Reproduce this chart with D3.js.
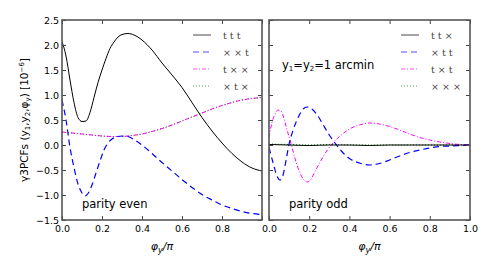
<!DOCTYPE html>
<html>
<head>
<meta charset="utf-8">
<script src="https://d3js.org/d3.v7.min.js"></script>
<style>
  body { margin: 0; background: #fff; }
  text { font-family: "DejaVu Sans", sans-serif; }
</style>
</head>
<body>
<svg width="491" height="260"></svg>
<script>

// parity even panel (left)
const ttt_x = [0, 0.02, 0.04, 0.06, 0.08, 0.1, 0.12, 0.14, 0.16, 0.18, 0.2, 0.22, 0.24, 0.26, 0.28, 0.3, 0.33, 0.36, 0.4, 0.45, 0.5, 0.55, 0.6, 0.65, 0.7, 0.75, 0.8, 0.85, 0.9, 0.95, 1.0];
const ttt_y = [2.07, 1.78, 1.3, 0.85, 0.55, 0.47, 0.48, 0.65, 0.95, 1.25, 1.5, 1.73, 1.93, 2.06, 2.16, 2.21, 2.23, 2.2, 2.1, 1.9, 1.64, 1.4, 1.15, 0.85, 0.55, 0.28, 0.04, -0.17, -0.34, -0.46, -0.52];

const xxt_x = [0, 0.02, 0.04, 0.06, 0.08, 0.1, 0.115, 0.13, 0.15, 0.17, 0.19, 0.21, 0.23, 0.25, 0.27, 0.3, 0.33, 0.36, 0.4, 0.45, 0.5, 0.55, 0.6, 0.65, 0.7, 0.75, 0.8, 0.85, 0.9, 0.95, 1.0];
const xxt_y = [0.9, 0.5, -0.05, -0.45, -0.78, -0.96, -1.02, -0.97, -0.8, -0.56, -0.32, -0.1, 0.04, 0.12, 0.16, 0.18, 0.17, 0.11, 0.0, -0.17, -0.35, -0.52, -0.69, -0.85, -0.99, -1.1, -1.2, -1.27, -1.33, -1.37, -1.39];

const txx_x = [0, 0.05, 0.1, 0.15, 0.2, 0.25, 0.3, 0.35, 0.4, 0.45, 0.5, 0.55, 0.6, 0.65, 0.7, 0.75, 0.8, 0.85, 0.9, 0.95, 1.0];
const txx_y = [0.26, 0.24, 0.22, 0.2, 0.18, 0.17, 0.17, 0.19, 0.22, 0.27, 0.33, 0.4, 0.48, 0.56, 0.64, 0.72, 0.79, 0.85, 0.9, 0.93, 0.95];
const xtx_y = [0.25, 0.24, 0.22, 0.2, 0.18, 0.17, 0.17, 0.19, 0.22, 0.27, 0.33, 0.4, 0.48, 0.56, 0.64, 0.72, 0.79, 0.85, 0.9, 0.93, 0.95];

// parity odd panel (right)
const ttx_x = [0, 0.1, 0.2, 0.3, 0.4, 0.5, 0.6, 0.7, 0.8, 0.9, 1.0];
const ttx_y = [0.01, 0.0, -0.01, 0.0, 0.0, -0.01, 0.0, 0.0, 0.0, 0.0, 0.0];
const xxx_y = [0.02, 0.01, 0.0, 0.01, 0.0, 0.0, 0.0, 0.0, 0.0, 0.0, 0.0];

const xtt_x = [0, 0.02, 0.04, 0.055, 0.07, 0.085, 0.1, 0.12, 0.145, 0.17, 0.19, 0.21, 0.24, 0.27, 0.3, 0.33, 0.36, 0.4, 0.45, 0.5, 0.55, 0.6, 0.65, 0.7, 0.75, 0.8, 0.85, 0.9, 0.95, 1.0];
const xtt_y = [-0.05, -0.35, -0.62, -0.7, -0.6, -0.3, 0.02, 0.3, 0.55, 0.72, 0.76, 0.73, 0.6, 0.4, 0.2, 0.03, -0.12, -0.27, -0.36, -0.4, -0.37, -0.3, -0.22, -0.15, -0.1, -0.06, -0.03, -0.02, -0.01, 0.0];

const txt_x = [0, 0.015, 0.03, 0.045, 0.06, 0.075, 0.09, 0.11, 0.13, 0.15, 0.17, 0.19, 0.21, 0.23, 0.26, 0.29, 0.32, 0.36, 0.4, 0.45, 0.5, 0.55, 0.6, 0.65, 0.7, 0.75, 0.8, 0.85, 0.9, 0.95, 1.0];
const txt_y = [0.15, 0.45, 0.62, 0.7, 0.68, 0.52, 0.3, 0.02, -0.28, -0.52, -0.68, -0.74, -0.68, -0.52, -0.3, -0.1, 0.05, 0.2, 0.32, 0.4, 0.44, 0.42, 0.37, 0.3, 0.22, 0.15, 0.1, 0.06, 0.03, 0.01, 0.0];

const yTicks = [-1.5, -1.0, -0.5, 0.0, 0.5, 1.0, 1.5, 2.0, 2.5];
const xTicks = [0.0, 0.2, 0.4, 0.6, 0.8, 1.0];

const styles = {
  solid:   {color: "#000000", dash: null, width: 1},
  dashed:  {color: "#0000ff", dash: "6,4", width: 1.2},
  dashdot: {color: "#ff00ff", dash: "4,2,1,2", width: 1},
  dotted:  {color: "#008000", dash: "1,2", width: 1}
};

const panels = [
  {
    left: 62, right: 262, showY: true, showLastX: false,
    note: "parity even",
    series: [
      {label: "t t t", x: ttt_x, y: ttt_y, style: "solid"},
      {label: "× × t", x: xxt_x, y: xxt_y, style: "dashed"},
      {label: "t × ×", x: txx_x, y: txx_y, style: "dashdot"},
      {label: "× t ×", x: txx_x, y: xtx_y, style: "dotted"}
    ]
  },
  {
    left: 269, right: 470, showY: false, showLastX: true,
    note: "parity odd",
    series: [
      {label: "t t ×", x: ttx_x, y: ttx_y, style: "solid"},
      {label: "× t t", x: xtt_x, y: xtt_y, style: "dashed"},
      {label: "t × t", x: txt_x, y: txt_y, style: "dashdot"},
      {label: "× × ×", x: ttx_x, y: xxx_y, style: "dotted"}
    ]
  }
];

const plotTop = 20, plotBottom = 220;
const svg = d3.select("svg");
const yScale = d3.scaleLinear().domain([-1.5, 2.5]).range([plotBottom, plotTop]);
const fmt = d => d3.format(".1f")(d).replace("-", "\u2212");

panels.forEach(p => {
  const xScale = d3.scaleLinear().domain([0, 1]).range([p.left, p.right]);
  const w = p.right - p.left;
  const g = svg.append("g");

  const clipId = "clip" + p.left;
  svg.append("clipPath").attr("id", clipId)
    .append("rect").attr("x", p.left).attr("y", plotTop).attr("width", w).attr("height", plotBottom - plotTop);

  const line = (xs) => d3.line()
    .x((d, i) => xScale(xs[i]))
    .y(d => yScale(d))
    .curve(d3.curveMonotoneX);

  p.series.slice().reverse().forEach(s => {
    const st = styles[s.style];
    g.append("path")
      .datum(s.y)
      .attr("clip-path", `url(#${clipId})`)
      .attr("d", line(s.x))
      .attr("fill", "none")
      .attr("stroke", st.color)
      .attr("stroke-width", st.width)
      .attr("stroke-dasharray", st.dash);
  });

  // axes with inward ticks
  const yAx = g.append("g").attr("transform", `translate(${p.left},0)`)
    .call(d3.axisLeft(yScale).tickValues(yTicks).tickSizeInner(-4).tickSizeOuter(0).tickPadding(3)
      .tickFormat(p.showY ? fmt : ""));
  const yAxR = g.append("g").attr("transform", `translate(${p.right},0)`)
    .call(d3.axisRight(yScale).tickValues(yTicks).tickSizeInner(-4).tickSizeOuter(0).tickFormat(""));
  const xAx = g.append("g").attr("transform", `translate(0,${plotBottom})`)
    .call(d3.axisBottom(xScale).tickValues(xTicks).tickSizeInner(-4).tickSizeOuter(0).tickPadding(5)
      .tickFormat(d => (d === 1 && !p.showLastX) ? "" : fmt(d)));
  const xAxT = g.append("g").attr("transform", `translate(0,${plotTop})`)
    .call(d3.axisTop(xScale).tickValues(xTicks).tickSizeInner(-4).tickSizeOuter(0).tickFormat(""));

  [yAx, yAxR, xAx, xAxT].forEach(a => {
    a.select(".domain").remove();
    a.selectAll(".tick line").attr("stroke", "#444").attr("stroke-width", 1);
    a.selectAll(".tick text").style("font-size", "9.5px").attr("fill", "#000");
  });

  g.append("rect")
    .attr("x", p.left).attr("y", plotTop)
    .attr("width", w).attr("height", plotBottom - plotTop)
    .attr("fill", "none").attr("stroke", "#555").attr("stroke-width", 1.6);

  // x label
  const xl = g.append("text")
    .attr("x", (p.left + p.right) / 2).attr("y", 250)
    .attr("text-anchor", "middle")
    .style("font-size", "11px").style("font-style", "italic");
  xl.append("tspan").text("\u03c6");
  xl.append("tspan").attr("dy", 3).style("font-size", "8px").text("y");
  xl.append("tspan").attr("dy", -3).text("/\u03c0");

  // legend
  const lx = p.right - 69, ly = 35;
  p.series.forEach((s, i) => {
    const st = styles[s.style];
    const row = g.append("g").attr("transform", `translate(${lx},${ly + i * 17})`);
    row.append("line")
      .attr("x1", 0).attr("x2", 18).attr("y1", 0).attr("y2", 0)
      .attr("stroke", st.color).attr("stroke-width", st.width)
      .attr("stroke-dasharray", st.dash).attr("opacity", 0.7);
    row.append("text")
      .attr("x", 30).attr("y", 3.5)
      .attr("fill", "#444")
      .style("font-family", "'DejaVu Serif', serif")
      .style("font-size", "9.5px")
      .text(s.label);
  });

  g.append("text")
    .attr("x", p.left + 20).attr("y", 208)
    .style("font-size", "11.5px")
    .text(p.note);
});

// y label
const yl = svg.append("text")
  .attr("transform", "translate(28,120) rotate(-90)")
  .attr("text-anchor", "middle")
  .style("font-size", "10.5px");
yl.append("tspan").text("\u03b33PCFs (y");
yl.append("tspan").attr("dy", 2).style("font-size", "7px").text("1");
yl.append("tspan").attr("dy", -2).text(",y");
yl.append("tspan").attr("dy", 2).style("font-size", "7px").text("2");
yl.append("tspan").attr("dy", -2).text(",\u03c6");
yl.append("tspan").attr("dy", 2).style("font-size", "7px").text("y");
yl.append("tspan").attr("dy", -2).text(") [10");
yl.append("tspan").attr("dy", -4).style("font-size", "7px").text("\u22126");
yl.append("tspan").attr("dy", 4).text("]");

// scale annotation in right panel
const ann = svg.append("text")
  .attr("x", 282).attr("y", 69)
  .style("font-size", "11.5px");
ann.append("tspan").text("y");
ann.append("tspan").attr("dy", 2).style("font-size", "7px").text("1");
ann.append("tspan").attr("dy", -2).text("=y");
ann.append("tspan").attr("dy", 2).style("font-size", "7px").text("2");
ann.append("tspan").attr("dy", -2).text("=1 arcmin");

</script>
</body>
</html>
